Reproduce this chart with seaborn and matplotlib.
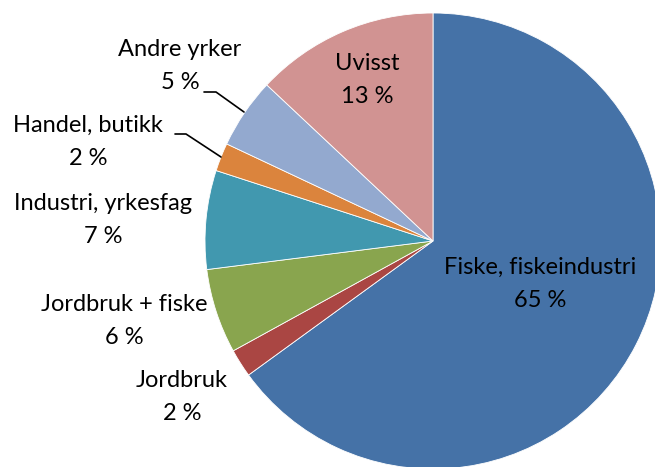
import matplotlib
matplotlib.use("Agg")
import matplotlib.pyplot as plt
import seaborn as sns

# Data (share of people by occupation)
categories = ["Fiske, fiskeindustri", "Jordbruk", "Jordbruk + fiske",
              "Industri, yrkesfag", "Handel, butikk", "Andre yrker", "Uvisst"]
shares = [65, 2, 6, 7, 2, 5, 13]
pct_labels = ["65 %", "2 %", "6 %", "7 %", "2 %", "5 %", "13 %"]
colors = ["#4572A7", "#AA4643", "#89A54E", "#4198AF", "#DB843D", "#93A9CF", "#D19392"]

sns.set_theme(style="white")
plt.rcParams["font.family"] = ["Lato", "DejaVu Sans"]

W, H = 655, 467
fig = plt.figure(figsize=(W / 100, H / 100), dpi=100)
ax = fig.add_axes([0, 0, 1, 1])

cx, cy, r = 433, 241, 228
# y axis gets flipped below: start at -90 (screen top), counterclock -> clockwise on screen
ax.pie(shares, colors=colors, startangle=-90, counterclock=True,
       center=(cx, cy), radius=r, frame=True,
       wedgeprops=dict(linewidth=0.6, edgecolor="white"))
ax.set_xlim(0, W)
ax.set_ylim(H, 0)
ax.set_aspect("equal")
ax.axis("off")

# label block centres in pixel coords (x, y down)
label_pos = [(540, 284), (182, 397), (124, 321), (103, 220), (88, 142), (180, 66), (367, 80)]
for name, pct, (x, y) in zip(categories, pct_labels, label_pos):
    ax.text(x, y, f"{name}\n{pct}", ha="center", va="center", fontsize=17,
            color="black", linespacing=1.7)

# leader lines for the small outside labels
ax.plot([204, 216, 244], [92, 92, 112], color="black", lw=1.2)
ax.plot([175, 186, 221], [134, 134, 157], color="black", lw=1.2)

fig.savefig("out.png", dpi=100)
